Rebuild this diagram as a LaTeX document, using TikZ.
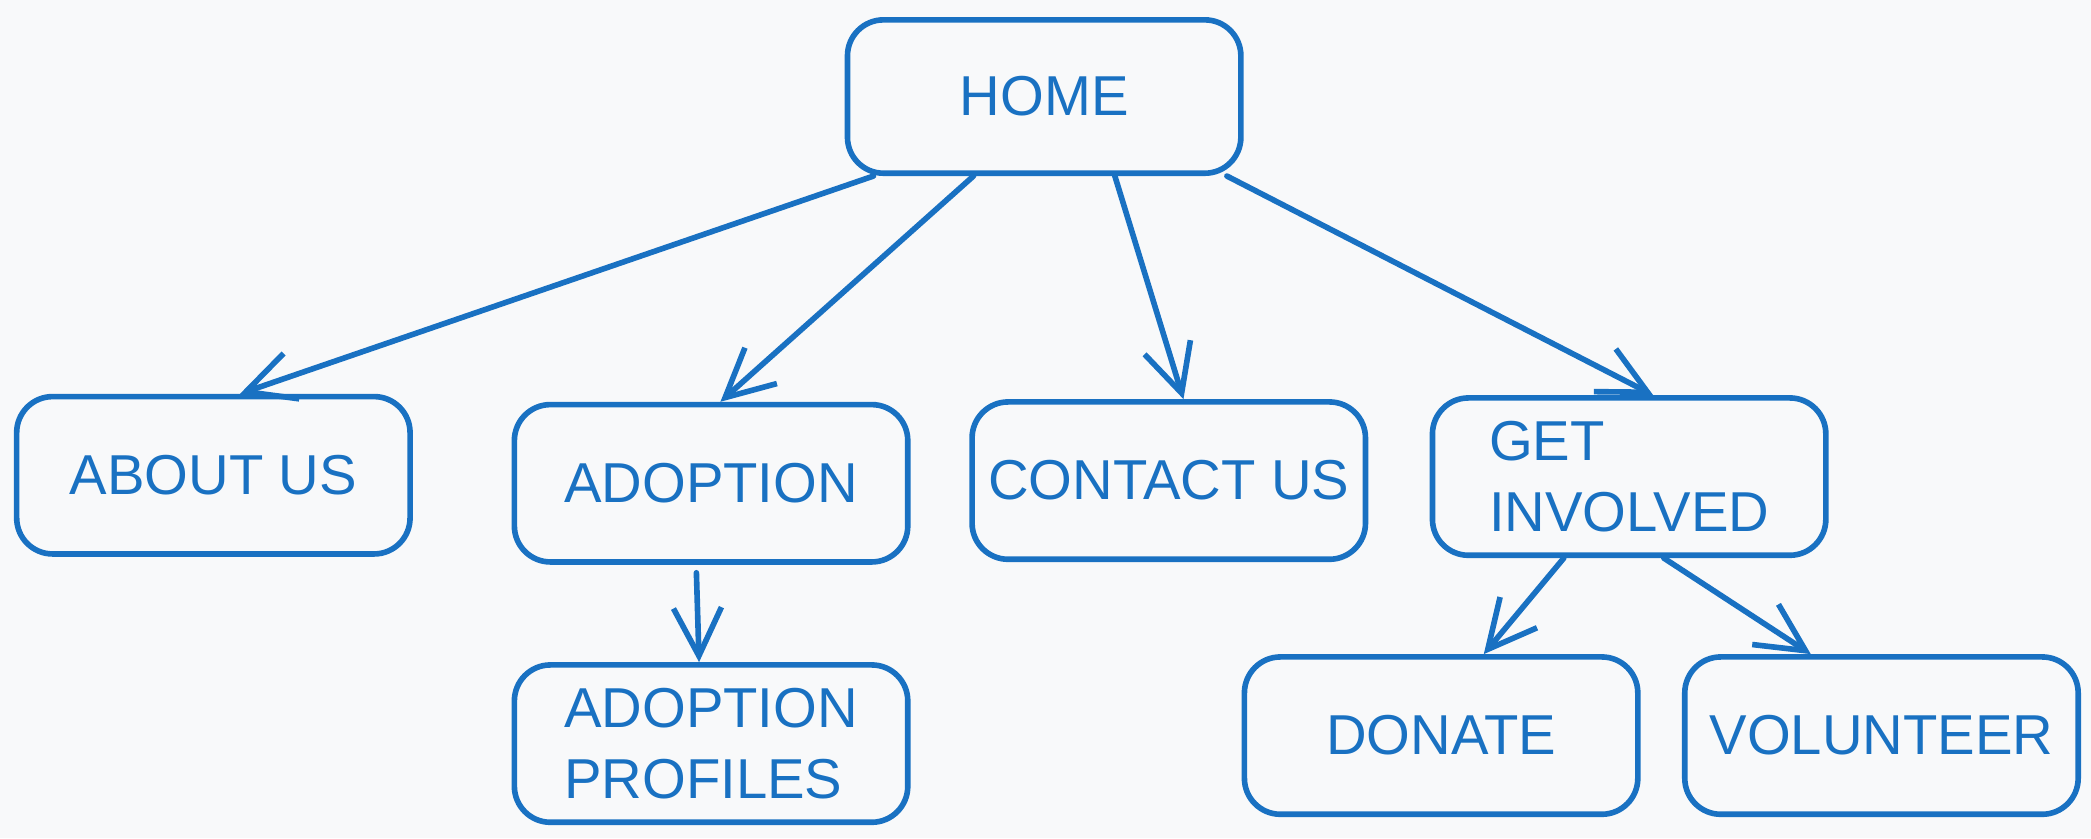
\documentclass[tikz,border=0pt]{standalone}
\usepackage{fontspec}
\setmainfont{Liberation Sans}
\usetikzlibrary{positioning,arrows.meta}
\definecolor{inkblue}{HTML}{1971C2}
\definecolor{paper}{HTML}{F8F9FA}

\begin{document}
\begin{tikzpicture}
	\tikzstyle{pagebox} = [rectangle, draw=inkblue, line width=1.2pt, rounded corners=0.27cm, minimum height=1.18cm, minimum width=2.95cm, text=inkblue, font=\fontsize{12}{15}\selectfont, inner sep=2pt]
	\tikzstyle{link} = [draw=inkblue, line width=1.2pt, line cap=round, -{Straight Barb[length=3.6mm, width=3.6mm, line width=1.2pt]}]
	\fill[paper] (0, 0) rectangle (15.68, 6.284);
	
	\node[pagebox, minimum height=1.15cm] (home) at (7.83, 5.56) {HOME};
	
	\node[pagebox] (about) at (1.60, 2.72) {ABOUT US};
	\node[right=0.74cm of about, pagebox, yshift=-0.06cm] (adopt) {ADOPTION};
	\node[right=0.44cm of adopt, pagebox, yshift=0.02cm] (contact) {CONTACT US};
	\node[right=0.46cm of contact, pagebox, yshift=0.03cm, align=left] (involved) {GET\\INVOLVED};
	
	\node[below=0.73cm of adopt, pagebox, align=left] (profiles) {ADOPTION\\PROFILES};
	\node[below=0.72cm of involved, pagebox, xshift=-1.41cm] (donate) {DONATE};
	\node[right=0.31cm of donate, pagebox] (volunteer) {VOLUNTEER};
	
	\draw[link] ([xshift=-1.28cm]home.south) -- ([xshift=0.20cm]about.north);
	\draw[link] ([xshift=-0.53cm]home.south) -- ([xshift=0.07cm]adopt.north);
	\draw[link] ([xshift=0.53cm]home.south) -- ([xshift=0.11cm]contact.north);
	\draw[link] ([xshift=1.37cm]home.south) -- ([xshift=0.18cm]involved.north);
	
	\draw[link] ([xshift=-0.11cm, yshift=-0.06cm]adopt.south) -- ([xshift=-0.09cm]profiles.north);
	\draw[link] ([xshift=-0.49cm]involved.south) -- ([xshift=0.32cm]donate.north);
	\draw[link] ([xshift=0.26cm]involved.south) -- ([xshift=-0.53cm]volunteer.north);
	
\end{tikzpicture}
\end{document}
